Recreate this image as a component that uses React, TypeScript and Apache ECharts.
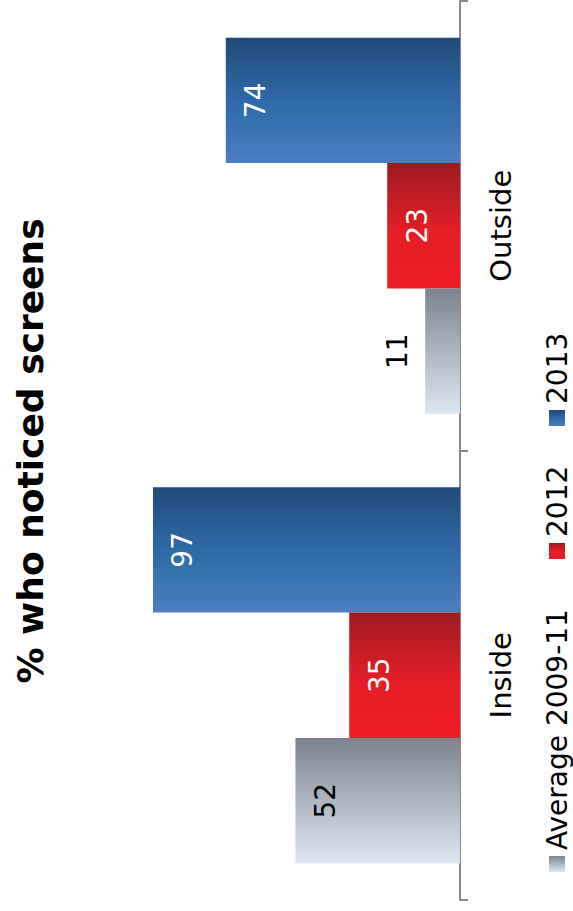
import React, { useEffect, useRef } from "react";
import * as echarts from "echarts";

const categories = ["Inside", "Outside"];
const seriesNames = ["Average 2009-11", "2012", "2013"];
const avgValues = [52, 11];
const v2012 = [35, 23];
const v2013 = [97, 74];
const titleText = "% who noticed screens";

const FONT = "'DejaVu Sans', Verdana, sans-serif";

const greyGrad = () =>
  new echarts.graphic.LinearGradient(0, 0, 0, 1, [
    { offset: 0, color: "#7c838e" },
    { offset: 1, color: "#dde8f4" },
  ]);
const redGrad = () =>
  new echarts.graphic.LinearGradient(0, 0, 0, 1, [
    { offset: 0, color: "#9c1b20" },
    { offset: 0.55, color: "#e51e26" },
    { offset: 1, color: "#ee1c25" },
  ]);
const blueGrad = () =>
  new echarts.graphic.LinearGradient(0, 0, 0, 1, [
    { offset: 0, color: "#1f4a78" },
    { offset: 0.5, color: "#2e6aa8" },
    { offset: 1, color: "#4a7fc0" },
  ]);

export default function App() {
  const ref = useRef<HTMLDivElement>(null);
  useEffect(() => {
    if (!ref.current) return;
    const chart = echarts.init(ref.current, null, { renderer: "svg" });
    const gradFns = [greyGrad, redGrad, blueGrad];
    const dataSets = [avgValues, v2012, v2013];
    const labelColors = ["#000000", "#ffffff", "#ffffff"];

    // ECharts places the first series at the top of each band; reverse so Average sits at the bottom
    const order = [2, 1, 0];
    const series = order.map((si) => ({
      name: seriesNames[si],
      type: "bar",
      barGap: "0%",
      barCategoryGap: "16.3%",
      itemStyle: { color: gradFns[si]() },
      data: dataSets[si].map((v) => {
        const outside = v < 15;
        return {
          value: v,
          label: {
            show: true,
            position: outside ? "left" : "insideLeft",
            distance: outside ? 28 : 30,
            rotate: 90,
            align: "center",
            verticalAlign: "middle",
            color: outside ? "#000000" : labelColors[si],
            fontSize: 28,
            fontFamily: FONT,
          },
        };
      }),
    }));

    // legend drawn as rotated graphics
    const legendMarkerX = 549;
    const legendItemsY = [872, 559, 426];
    const legendGraphics: any[] = [];
    seriesNames.forEach((name, i) => {
      const y = legendItemsY[i];
      legendGraphics.push({
        type: "rect",
        shape: { x: legendMarkerX, y: y - 16, width: 16, height: 16 },
        style: { fill: gradFns[i]() },
      });
      legendGraphics.push({
        type: "text",
        x: 557,
        y: y - 22,
        rotation: Math.PI / 2,
        style: {
          text: name,
          fontSize: 28,
          fontFamily: FONT,
          fill: "#000",
          align: "left",
          verticalAlign: "middle",
        },
      });
    });

    chart.setOption({
      animation: false,
      grid: { left: 143.5, right: 113, top: 1, bottom: 11, containLabel: false },
      xAxis: {
        type: "value",
        min: 0,
        max: 100,
        inverse: true,
        show: false,
      },
      yAxis: {
        type: "category",
        data: categories,
        position: "right",
        axisLine: { show: true, lineStyle: { color: "#888888", width: 2 } },
        axisTick: { show: true, length: 8, lineStyle: { color: "#888888", width: 2 } },
        axisLabel: {
          rotate: 90,
          margin: 26,
          fontSize: 29,
          color: "#000",
          fontFamily: FONT,
        },
        splitLine: { show: false },
      },
      series,
      graphic: [
        {
          type: "text",
          x: 30,
          y: 451,
          rotation: Math.PI / 2,
          style: {
            text: titleText,
            fontSize: 36,
            fontWeight: "bold",
            fontFamily: FONT,
            fill: "#000",
            align: "center",
            verticalAlign: "middle",
          },
        },
        ...legendGraphics,
      ],
    });
    return () => chart.dispose();
  }, []);
  return (
    <div
      ref={ref}
      style={{ position: "fixed", left: 0, top: 0, width: 573, height: 911, background: "#fff" }}
    />
  );
}
